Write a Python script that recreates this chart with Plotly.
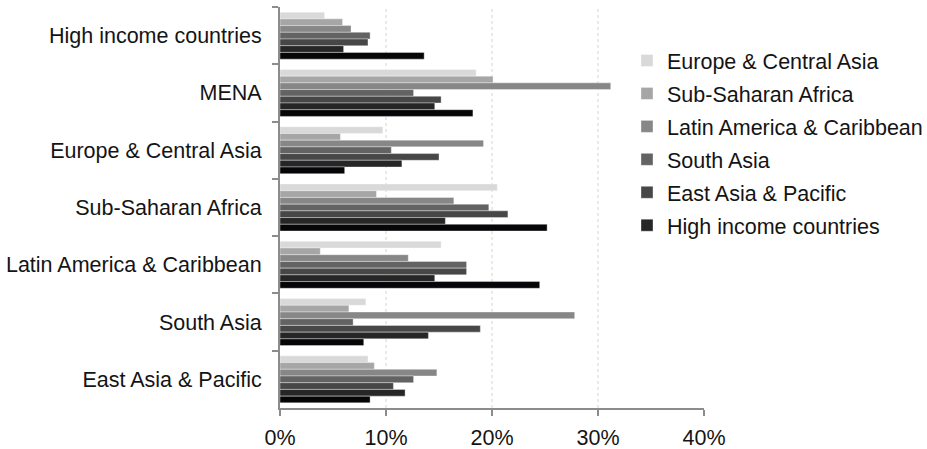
import plotly.graph_objects as go

categories = ["High income countries", "MENA", "Europe & Central Asia", "Sub-Saharan Africa",
              "Latin America & Caribbean", "South Asia", "East Asia & Pacific"]

series_names = ["Europe & Central Asia", "Sub-Saharan Africa", "Latin America & Caribbean",
                "South Asia", "East Asia & Pacific", "High income countries", "MENA"]

europe_central_asia = [4.2, 18.5, 9.7, 20.5, 15.2, 8.1, 8.3]
sub_saharan_africa = [5.9, 20.1, 5.7, 9.1, 3.8, 6.5, 8.9]
latin_america_caribbean = [6.7, 31.2, 19.2, 16.4, 12.1, 27.8, 14.8]
south_asia = [8.5, 12.6, 10.5, 19.7, 17.6, 6.9, 12.6]
east_asia_pacific = [8.3, 15.2, 15.0, 21.5, 17.6, 18.9, 10.7]
high_income = [6.0, 14.6, 11.5, 15.6, 14.6, 14.0, 11.8]
mena = [13.6, 18.2, 6.1, 25.2, 24.5, 7.9, 8.5]

series_values = [europe_central_asia, sub_saharan_africa, latin_america_caribbean,
                 south_asia, east_asia_pacific, high_income, mena]
colors = ["#d9d9d9", "#a6a6a6", "#878787", "#636363", "#474747", "#262626", "#060608"]
show_in_legend = [True, True, True, True, True, True, False]

x_ticks = [0, 10, 20, 30, 40]
x_tick_labels = ["0%", "10%", "20%", "30%", "40%"]

FONT = "Liberation Sans, Arial, sans-serif"
FS = 21.5

fig = go.Figure()
for name, vals, col, show in zip(series_names, series_values, colors, show_in_legend):
    fig.add_trace(go.Bar(
        y=categories, x=vals, name=name, orientation="h",
        marker=dict(color=col, line=dict(color="rgba(255,255,255,0.6)", width=0.6)),
        showlegend=show, legendgroup=name,
    ))

for v in [10, 20, 30]:
    fig.add_vline(x=v, line=dict(color="#dcdccc", width=1.2, dash="dot"), layer="below")

fig.update_layout(
    width=927, height=449,
    margin=dict(l=280, r=223, t=7, b=41, autoexpand=False),
    barmode="group", bargap=0.18, bargroupgap=0,
    plot_bgcolor="white", paper_bgcolor="white",
    font=dict(family=FONT, size=FS, color="#141414"),
    legend=dict(x=(627 - 280) / 424, y=(408 - 40) / 401, xanchor="left", yanchor="top",
                traceorder="grouped", tracegroupgap=2, bgcolor="rgba(0,0,0,0)",
                font=dict(size=FS, family=FONT, color="#141414")),
    xaxis=dict(range=[0, 40], tickvals=x_ticks, ticktext=x_tick_labels,
               showgrid=False, zeroline=False,
               showline=True, linecolor="#8c8c8c", linewidth=2,
               ticks="outside", tickcolor="#8c8c8c", ticklen=6, tickwidth=2,
               ticklabelstandoff=3),
    yaxis=dict(autorange="reversed", showgrid=False, zeroline=False,
               showline=True, linecolor="#8c8c8c", linewidth=2,
               ticks="outside", tickson="boundaries", tickcolor="#8c8c8c",
               ticklen=6, tickwidth=2, ticklabelstandoff=12),
)

fig.write_html("out.html", config={"displayModeBar": False},
               post_script="document.body.style.margin='0';document.body.style.overflow='hidden';")
